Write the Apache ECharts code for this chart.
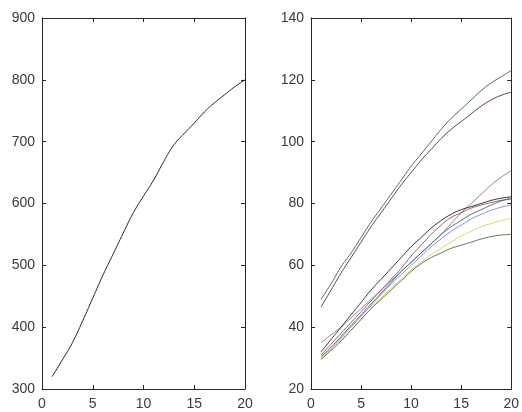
<!DOCTYPE html>
<html>
<head>
<meta charset="utf-8">
<script src="https://cdn.jsdelivr.net/npm/echarts@6/dist/echarts.min.js"></script>
<style>
  html, body { margin: 0; padding: 0; background: #fff; }
  #chart { width: 522px; height: 412px; }
</style>
</head>
<body>
<div id="chart"></div>
<script>
// x positions, shared by both panels
var xs = [1, 2, 3, 4, 5, 6, 7, 8, 9, 10, 11, 12, 13, 14, 15, 16, 17, 18, 19, 20];

// left panel
var leftLine = [320, 347, 375, 410, 447, 484, 518, 552, 585, 612, 638, 668, 695, 713, 730, 748, 763, 776, 789, 800];

// right panel, upper pair
var upperA = [49, 54, 59.5, 64, 69, 74, 78.5, 83, 87.5, 92, 96, 100, 104, 107.5, 110.5, 113.5, 116.5, 119, 121, 123];
var upperB = [46.5, 52, 57.5, 62.5, 67.5, 72.5, 77, 81.5, 86, 90, 94, 97.5, 101, 104, 106.5, 109, 111.5, 113.5, 115, 116];

// right panel, lower bundle
var lowGray = [35, 37.5, 40, 43, 46, 49, 52, 55, 58, 61, 64, 67, 70, 73.5, 77, 80, 83, 86, 88.5, 90.6];
var lowBlack = [32, 36, 40, 44, 48, 52, 55.5, 59, 62.5, 66, 69, 72, 74.5, 76.5, 78, 79, 80, 81, 81.7, 82.2];
var lowRed = [31, 34.5, 38, 41.5, 45, 48.5, 52, 55.5, 59, 63, 66.5, 70, 73, 75.5, 77, 78.5, 79.5, 80.3, 81, 81.4];
var lowTeal = [30.5, 33.5, 37, 40.5, 44, 47.5, 51, 54.5, 58, 61, 64, 67, 70, 72.5, 74.5, 76.5, 78, 79.5, 80.8, 81.8];
var lowBlue = [30, 33, 36.5, 40, 43.5, 47, 50.5, 54, 57, 60, 63, 66, 68.5, 71, 73, 75, 76.5, 77.8, 78.8, 79.5];
var lowYellow = [30, 33, 36, 39, 42.5, 46, 49.5, 52.5, 55.5, 58.5, 61, 63.5, 65.5, 67.5, 69.5, 71, 72.5, 73.5, 74.5, 75.2];
var lowGreen = [29.5, 32.5, 35.5, 39, 42.5, 46, 49, 52, 55, 58, 60.5, 62.5, 64, 65.5, 66.5, 67.5, 68.5, 69.3, 69.8, 70];

var axisColor = '#262626';
var labelColor = '#3a3a3a';
var labelFont = { color: labelColor, fontSize: 14, fontFamily: 'Liberation Sans, Arial, sans-serif' };

function pairs(ys) {
  return xs.map(function (x, i) { return [x, ys[i]]; });
}

function xAxisFor(grid, top) {
  return {
    type: 'value', gridIndex: grid, min: 0, max: 20, interval: 5,
    position: top ? 'top' : 'bottom',
    axisLine: { show: true, onZero: false, lineStyle: { color: axisColor, width: 1 } },
    axisTick: { show: true, inside: true, length: 4, lineStyle: { color: axisColor } },
    axisLabel: top ? { show: false } : Object.assign({ margin: 8 }, labelFont),
    splitLine: { show: false }
  };
}

function yAxisFor(grid, right, min, max, step) {
  return {
    type: 'value', gridIndex: grid, min: min, max: max, interval: step,
    position: right ? 'right' : 'left',
    axisLine: { show: true, onZero: false, lineStyle: { color: axisColor, width: 1 } },
    axisTick: { show: true, inside: true, length: 4, lineStyle: { color: axisColor } },
    axisLabel: right ? { show: false } : Object.assign({ margin: 7 }, labelFont),
    splitLine: { show: false }
  };
}

function line(name, xi, yi, ys, color) {
  return {
    name: name, type: 'line', xAxisIndex: xi, yAxisIndex: yi,
    data: pairs(ys), symbol: 'none', smooth: true, animation: false,
    lineStyle: { color: color, width: 0.9 }
  };
}

var myChart = echarts.init(document.getElementById('chart'));
var option = {
  backgroundColor: '#ffffff',
  animation: false,
  grid: [
    { left: 42, top: 18, width: 203, height: 371 },
    { left: 311, top: 18, width: 204, height: 371 }
  ],
  xAxis: [
    xAxisFor(0, false), xAxisFor(0, true),
    xAxisFor(1, false), xAxisFor(1, true)
  ],
  yAxis: [
    yAxisFor(0, false, 300, 900, 100), yAxisFor(0, true, 300, 900, 100),
    yAxisFor(1, false, 20, 140, 20), yAxisFor(1, true, 20, 140, 20)
  ],
  series: [
    line('left', 0, 0, leftLine, '#111111'),
    line('upperA', 2, 2, upperA, '#2f5f55'),
    line('upperB', 2, 2, upperB, '#5a2a2a'),
    line('lowGray', 2, 2, lowGray, '#808080'),
    line('lowBlack', 2, 2, lowBlack, '#222222'),
    line('lowRed', 2, 2, lowRed, '#9a4a5a'),
    line('lowTeal', 2, 2, lowTeal, '#3d6a6a'),
    line('lowBlue', 2, 2, lowBlue, '#8080e0'),
    line('lowYellow', 2, 2, lowYellow, '#d8d060'),
    line('lowGreen', 2, 2, lowGreen, '#4f6f3f')
  ]
};

option && myChart.setOption(option);
</script>
</body>
</html>
